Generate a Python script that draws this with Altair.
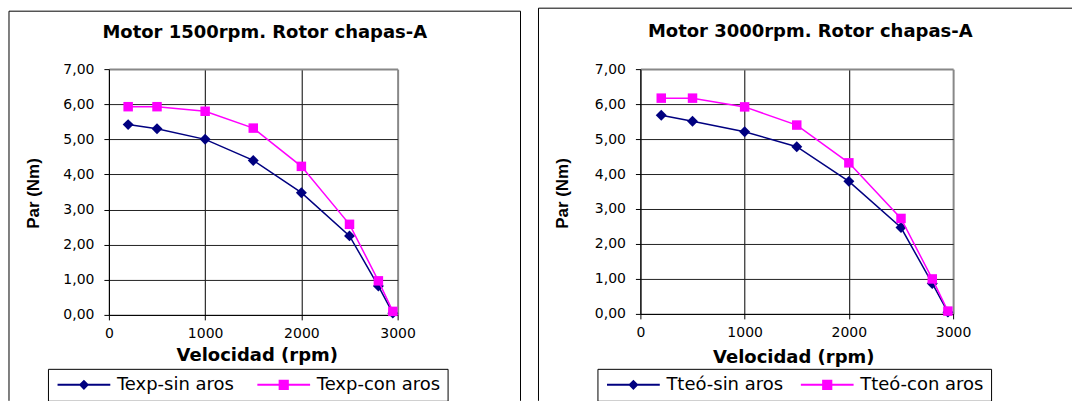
import altair as alt
import pandas as pd

# Motor speed points (rpm) shared by every series
rpm = [200, 500, 1000, 1500, 2000, 2500, 2800, 2950]

# 1500 rpm motor, experimental torque (Nm)
series_1500 = ["Texp-sin aros", "Texp-con aros"]
par_1500_sin = [5.42, 5.30, 5.00, 4.40, 3.48, 2.25, 0.82, 0.05]
par_1500_con = [5.93, 5.93, 5.80, 5.32, 4.23, 2.58, 0.97, 0.10]

# 3000 rpm motor, theoretical torque (Nm)
series_3000 = ["Tteó-sin aros", "Tteó-con aros"]
par_3000_sin = [5.68, 5.51, 5.21, 4.78, 3.79, 2.47, 0.87, 0.05]
par_3000_con = [6.17, 6.17, 5.92, 5.40, 4.32, 2.73, 1.00, 0.08]

titles = ["Motor 1500rpm. Rotor chapas-A", "Motor 3000rpm. Rotor chapas-A"]
x_ticks = [0, 1000, 2000, 3000]
y_ticks = [0, 1, 2, 3, 4, 5, 6, 7]

colors = ["#000080", "#FF00FF"]
marker_shapes = ["diamond", "square"]
marker_sizes = [120, 90]

# Legend symbols: a short line segment with the marker in the middle
legend_paths = [
    "M-4.4,-0.16H4.4V0.16H-4.4Z M0,-0.85L0.85,0L0,0.85L-0.85,0Z",
    "M-4.4,-0.16H4.4V0.16H-4.4Z M-0.85,-0.85H0.85V0.85H-0.85Z",
]

FONT = "DejaVu Sans"
one_row = pd.DataFrame({"k": [0]})


def panel(series, sin, con, title, w, h, geo):
    df = pd.DataFrame({
        "rpm": rpm + rpm,
        "par": sin + con,
        "serie": [series[0]] * len(rpm) + [series[1]] * len(rpm),
    })
    base = alt.Chart(df)

    x = alt.X(
        "rpm:Q",
        scale=alt.Scale(domain=[0, 3000], nice=False, zero=False),
        axis=alt.Axis(
            values=x_ticks, format="d", title="Velocidad (rpm)",
            labelFlush=False, labelOverlap=False,
            labelFont=FONT, labelFontSize=14, labelColor="black", labelPadding=7,
            titleFont=FONT, titleFontSize=18, titleFontWeight="bold", titleColor="black",
            titleX=geo["xtx"], titleY=geo["xty"], titleAlign="center", titleBaseline="alphabetic",
            domainColor="black", tickColor="black", tickSize=5,
            grid=True,
            gridColor={"condition": {"test": "datum.value == 3000", "value": "#888888"}, "value": "#000000"},
            gridWidth={"condition": {"test": "datum.value == 3000", "value": 2}, "value": 1},
        ),
    )
    y = alt.Y(
        "par:Q",
        scale=alt.Scale(domain=[0, 7], nice=False, zero=True),
        axis=alt.Axis(
            values=y_ticks, title="Par (Nm)",
            labelExpr="replace(format(datum.value, '.2f'), '.', ',')",
            labelOverlap=False,
            labelFont=FONT, labelFontSize=14, labelColor="black", labelPadding=10,
            titleFont="Liberation Sans", titleFontSize=17, titleFontWeight="bold", titleColor="black",
            titleX=geo["ytx"], titleY=geo["yty"], titleAngle=270, titleAlign="center",
            titleBaseline="alphabetic",
            domainColor="black", tickColor="black", tickSize=5,
            grid=True,
            gridColor={"condition": {"test": "datum.value == 7", "value": "#888888"}, "value": "#222222"},
            gridWidth={"condition": {"test": "datum.value == 7", "value": 2}, "value": 1},
        ),
    )

    layers = []
    # outer frame of the panel (top, left and right edges)
    frame = alt.Chart(one_row)
    layers.append(frame.mark_rule(color="black", strokeWidth=1).encode(
        x=alt.value(geo["fl"]), x2=alt.value(geo["fr"]), y=alt.value(geo["ft"]), y2=alt.value(geo["ft"])))
    layers.append(frame.mark_rule(color="black", strokeWidth=1).encode(
        x=alt.value(geo["fl"]), x2=alt.value(geo["fl"]), y=alt.value(geo["ft"]), y2=alt.value(geo["fb"])))
    if geo.get("right_edge", True):
        layers.append(frame.mark_rule(color="black", strokeWidth=1).encode(
            x=alt.value(geo["fr"]), x2=alt.value(geo["fr"]), y=alt.value(geo["ft"]), y2=alt.value(geo["fb"])))

    # panel heading
    layers.append(frame.mark_text(
        font=FONT, fontSize=18, fontWeight="bold", color="black", align="center", baseline="alphabetic"
    ).encode(x=alt.value(geo["tx"]), y=alt.value(geo["ty"]), text=alt.value(title)))

    # data series: line first, then markers on top
    for name, color, shape, size in zip(series, colors, marker_shapes, marker_sizes):
        sub = base.transform_filter(alt.datum.serie == name)
        layers.append(sub.mark_line(color=color, strokeWidth=1.5).encode(x=x, y=y))
        layers.append(sub.mark_point(color=color, filled=True, opacity=1, shape=shape, size=size).encode(x=x, y=y))

    # legend only (no visible marks)
    leg = alt.Legend(
        title=None, orient="none", legendX=geo["lx"], legendY=geo["ly"],
        direction="horizontal", columns=2,
        strokeColor="black", fillColor="white", padding=7, columnPadding=geo["lcp"],
        labelFont=FONT, labelFontSize=18, labelColor="black", labelOffset=24,
        symbolSize=144, symbolOffset=20, symbolStrokeWidth=0, symbolOpacity=1,
    )
    layers.append(base.transform_filter("false").mark_point(filled=True, opacity=1).encode(
        x=x, y=y,
        color=alt.Color("serie:N", scale=alt.Scale(domain=series, range=colors), legend=leg),
        shape=alt.Shape("serie:N", scale=alt.Scale(domain=series, range=legend_paths), legend=leg),
    ))

    return alt.layer(*layers).properties(width=w, height=h)


left = panel(series_1500, par_1500_sin, par_1500_con, titles[0], 289, 246, {
    "xtx": 148, "xty": 46, "ytx": -70, "yty": 124,
    "fl": -100, "fr": 412, "ft": -58, "fb": 332,
    "tx": 156, "ty": -31, "lx": -61, "ly": 300, "lcp": 20,
})
right = panel(series_3000, par_3000_sin, par_3000_con, titles[1], 313, 245, {
    "xtx": 153, "xty": 49, "ytx": -73, "yty": 124,
    "fl": -102, "fr": 432, "ft": -61, "fb": 332, "right_edge": False,
    "tx": 170, "ty": -32, "lx": -43, "ly": 300, "lcp": 15,
})

chart = (
    alt.hconcat(left, right, spacing=243, bounds="flush")
    .resolve_scale(color="independent", shape="independent")
    .properties(padding={"left": 8, "top": 7, "right": 0, "bottom": 0}, background="white")
    .configure_view(stroke="transparent")
)

chart.save("out.html", embed_options={"renderer": "svg", "actions": False})
